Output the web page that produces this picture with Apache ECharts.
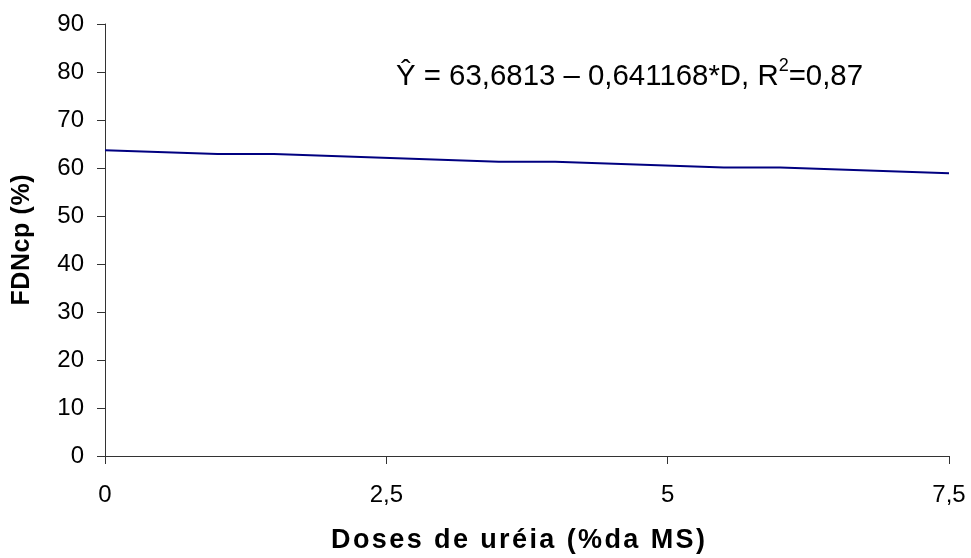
<!DOCTYPE html>
<html>
<head>
<meta charset="utf-8">
<script src="https://cdn.jsdelivr.net/npm/echarts@6/dist/echarts.min.js"></script>
<style>
  html, body { margin: 0; padding: 0; background: #fff; }
  #chart { width: 971px; height: 558px; }
</style>
</head>
<body>
<div id="chart"></div>
<script>
// Urea dose (% of dry matter) and fitted NDFap (%) values
const doses = [0, 1, 1.5, 3.5, 4, 5.5, 6, 7.5];
const fdncp = [63.7, 62.9, 62.9, 61.3, 61.3, 60.1, 60.1, 58.9];
const xTicks = [0, 2.5, 5, 7.5];
const yTicks = [0, 10, 20, 30, 40, 50, 60, 70, 80, 90];

const xTitle = 'Doses de uréia (%da MS)';
const yTitle = 'FDNcp (%)';

const FONT = '"Liberation Sans", Arial, sans-serif';
const fmtComma = v => String(v).replace('.', ',');

// Spread a bold title's letters apart: one rich-text run per character with side padding
function spaced(str, size, pad) {
  return {
    text: str.split('').map(ch => '{c|' + ch + '}').join(''),
    rich: { c: { fontFamily: FONT, fontSize: size, fontWeight: 'bold', fill: '#000', padding: [0, pad] } }
  };
}

const chart = echarts.init(document.getElementById('chart'), null, { renderer: 'canvas' });

const grid = { left: 105, right: 22, top: 24, bottom: 102 };

const xTitleStyle = spaced(xTitle, 27, 1.2);
const yTitleStyle = spaced(yTitle, 25, 0.3);

chart.setOption({
  backgroundColor: '#ffffff',
  animation: false,
  grid: Object.assign({ containLabel: false }, grid),
  xAxis: {
    type: 'value',
    min: xTicks[0],
    max: xTicks[xTicks.length - 1],
    interval: xTicks[1] - xTicks[0],
    axisLine: { show: true, lineStyle: { color: '#333', width: 1 } },
    axisTick: { show: true, inside: false, length: 8, lineStyle: { color: '#333' } },
    axisLabel: { fontFamily: FONT, fontSize: 24, color: '#000', margin: 27, formatter: fmtComma },
    splitLine: { show: false }
  },
  yAxis: {
    type: 'value',
    min: yTicks[0],
    max: yTicks[yTicks.length - 1],
    interval: yTicks[1] - yTicks[0],
    axisLine: { show: true, lineStyle: { color: '#333', width: 1 } },
    axisTick: { show: true, inside: false, length: 8, lineStyle: { color: '#333' } },
    axisLabel: { fontFamily: FONT, fontSize: 24, color: '#000', margin: 21 },
    splitLine: { show: false }
  },
  series: [{
    type: 'line',
    data: doses.map((d, i) => [d, fdncp[i]]),
    showSymbol: false,
    symbol: 'none',
    lineStyle: { color: '#000080', width: 2 },
    z: 3
  }],
  graphic: [
    {
      type: 'text',
      left: 396,
      top: 57,
      style: {
        text: '{t|Ŷ = 63,6813 – 0,641168*D, R}{s|2}{t|=0,87}',
        rich: {
          t: { fontFamily: FONT, fontSize: 29.4, fill: '#000', verticalAlign: 'bottom', lineHeight: 34 },
          s: { fontFamily: FONT, fontSize: 18, fill: '#000', verticalAlign: 'top', lineHeight: 34, padding: [0, 0, 14, 0] }
        }
      }
    },
    {
      type: 'text',
      x: 518,
      y: 541,
      style: Object.assign({ align: 'center', verticalAlign: 'middle' }, xTitleStyle)
    },
    {
      type: 'text',
      x: 22,
      y: 240,
      rotation: Math.PI / 2,
      style: Object.assign({ align: 'center', verticalAlign: 'middle' }, yTitleStyle)
    }
  ]
});
</script>
</body>
</html>
